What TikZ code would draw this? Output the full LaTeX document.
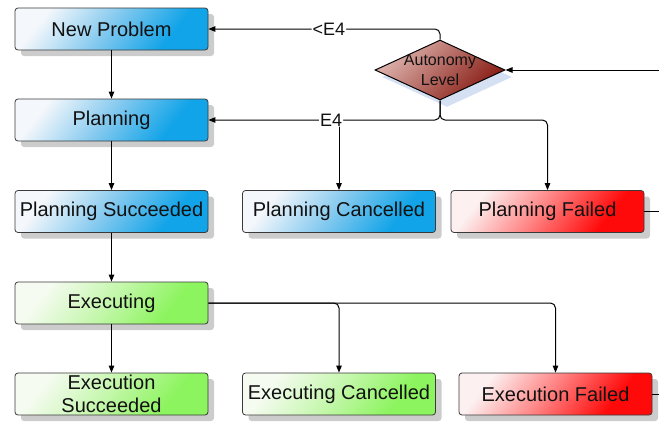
\documentclass[tikz,border=0pt]{standalone}
\usepackage{fontspec}
\setmainfont{Liberation Sans}
\usetikzlibrary{shapes.geometric,shadows,arrows.meta,calc}

\definecolor{bluehi}{HTML}{F4F7FB}
\definecolor{bluemid}{HTML}{86CAEF}
\definecolor{bluelo}{HTML}{12A4E8}
\definecolor{greenhi}{HTML}{F6FBF2}
\definecolor{greenmid}{HTML}{C6F7AE}
\definecolor{greenlo}{HTML}{8CF45E}
\definecolor{redhi}{HTML}{FCF0F0}
\definecolor{redmid}{HTML}{FF8080}
\definecolor{redlo}{HTML}{FF0A0A}
\definecolor{diahi}{HTML}{E0B6B0}
\definecolor{dialo}{HTML}{861A12}
\definecolor{diashadow}{HTML}{D6E0F3}
\definecolor{boxedge}{HTML}{3A3A3A}
\definecolor{ink}{HTML}{111111}

% state fills: pale in the upper left corner, saturated towards the lower right
\pgfdeclarehorizontalshading{bluestate}{100bp}{color(0bp)=(bluehi); color(26bp)=(bluehi);
  color(48bp)=(bluemid); color(70bp)=(bluelo); color(100bp)=(bluelo)}
\pgfdeclarehorizontalshading{greenstate}{100bp}{color(0bp)=(greenhi); color(26bp)=(greenhi);
  color(48bp)=(greenmid); color(70bp)=(greenlo); color(100bp)=(greenlo)}
\pgfdeclarehorizontalshading{redstate}{100bp}{color(0bp)=(redhi); color(26bp)=(redhi);
  color(48bp)=(redmid); color(70bp)=(redlo); color(100bp)=(redlo)}

\tikzset{
  state/.style={rectangle, rounded corners=3pt, draw=boxedge, line width=0.8pt,
    minimum width=193pt, minimum height=42pt, inner sep=0pt, align=center,
    text=ink, font=\fontsize{20}{23}\selectfont,
    drop shadow={shadow xshift=6pt, shadow yshift=-6pt, fill=black!20, opacity=1}},
  bluebox/.style={state, shading=bluestate, shading angle=-38},
  greenbox/.style={state, shading=greenstate, shading angle=-38},
  redbox/.style={state, shading=redstate, shading angle=-38},
  decision/.style={diamond, draw=black, line width=1pt, minimum width=130pt,
    minimum height=60pt, inner sep=0pt, top color=diahi, bottom color=dialo,
    shading angle=45,
    drop shadow={shadow xshift=7pt, shadow yshift=-7pt, fill=diashadow, opacity=1}},
  conn/.style={draw=black, line width=1pt, rounded corners=5pt},
  arr/.style={conn, -{Triangle[length=7pt,width=5.5pt]}},
  guard/.style={fill=white, inner sep=1pt, text=ink, font=\fontsize{18}{20}\selectfont},
}

\begin{document}
\begin{tikzpicture}[x=1pt, y=-1pt]
\useasboundingbox (0,0) rectangle (659,421);

% states
\node[bluebox] (np) at (111.5,29) {New Problem};
\node[bluebox] (pl) at (111.5,120) {Planning};
\node[bluebox] (ps) at (111.5,211.5) {Planning Succeeded};
\node[bluebox] (pc) at (339,211.5) {Planning Cancelled};
\node[redbox] (pf) at (547.5,211.5) {Planning Failed};
\node[greenbox] (ex) at (111.5,303) {Executing};
\node[greenbox] (es) at (111.5,394) {Execution\\Succeeded};
\node[greenbox] (ec) at (339,394) {Executing Cancelled};
\node[redbox] (ef) at (555.5,394) {Execution Failed};

% autonomy decision
\node[decision] (al) at (440,70) {};
\node[align=center, text=ink, font=\fontsize{16}{20}\selectfont] (altext) at (al) {Autonomy\\Level};

% loose ends at the right border
\coordinate (inR) at (659,70);
\coordinate (pfR) at (659,211.5);
\coordinate (efR) at (659,394);

% main flow
\draw[arr] (np) -- (pl);
\draw[arr] (pl) -- (ps);
\draw[arr] (ps) -- (ex);
\draw[arr] (ex) -- (es);
\draw[arr] (ex.east) -| (ec.north);
\draw[arr] (ex.east) -| (ef.north);

% decision outcomes
\draw[arr] (pl.east -| pc.north) -- (pc.north);
\draw[arr] (al.south) |- (pl.east -| pf.north) -- (pf.north);
\draw[arr] (al.south) |- node[guard, pos=0.735] (lblE) {E4} (pl.east);
\draw[arr] (al.north) |- node[guard, pos=0.74] (lblLE) {<E4} (np.east);

% incoming and outgoing at the border
\draw[arr] (inR) -- (al.east);
\draw[conn] (pf.east) -- (pfR);
\draw[conn] (ef.east) -- (efR);
\end{tikzpicture}
\end{document}
